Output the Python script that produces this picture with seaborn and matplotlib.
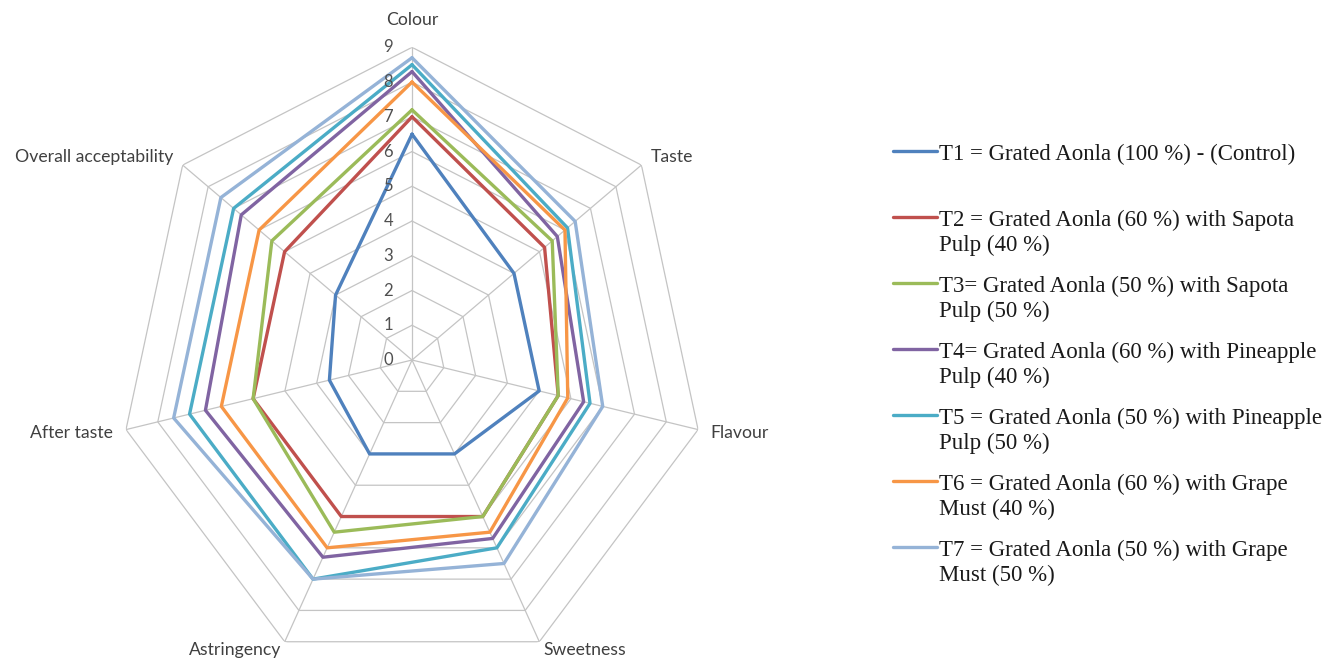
import numpy as np
import pandas as pd
import matplotlib
matplotlib.use("Agg")
import matplotlib.pyplot as plt
import seaborn as sns
from matplotlib.lines import Line2D
from matplotlib.legend_handler import HandlerLine2D

# Sensory scores (9-point hedonic scale) for each treatment
attributes = ["Colour", "Taste", "Flavour", "Sweetness", "Astringency",
              "After taste", "Overall acceptability"]
T1 = [6.5, 4.0, 4.0, 3.0, 3.0, 2.6, 3.0]
T2 = [7.0, 5.2, 4.6, 5.0, 5.0, 5.0, 5.0]
T3 = [7.2, 5.5, 4.6, 5.0, 5.5, 5.0, 5.5]
T4 = [8.3, 5.7, 5.4, 5.7, 6.3, 6.5, 6.7]
T5 = [8.5, 6.1, 5.6, 6.0, 7.0, 7.0, 7.0]
T6 = [8.0, 6.0, 4.9, 5.5, 6.0, 6.0, 6.0]
T7 = [8.7, 6.4, 6.0, 6.5, 7.0, 7.5, 7.5]

treatments = [
    "T1 = Grated Aonla (100 %) - (Control)\n ",
    "T2 = Grated Aonla (60 %) with Sapota\nPulp (40 %)",
    "T3= Grated Aonla (50 %) with Sapota\nPulp (50 %)",
    "T4= Grated Aonla (60 %) with Pineapple\nPulp (40 %)",
    "T5 = Grated Aonla (50 %) with Pineapple\nPulp (50 %)",
    "T6 = Grated Aonla (60 %) with Grape\nMust (40 %)",
    "T7 = Grated Aonla (50 %) with Grape\nMust (50 %)",
]
scores = [T1, T2, T3, T4, T5, T6, T7]
colors = ["#4F81BD", "#C0504D", "#9BBB59", "#8064A2", "#4BACC6", "#F79646", "#95B3D7"]
scale_ticks = list(range(0, 10))

sns.set_theme(style="white")
plt.rcParams["font.family"] = ["Lato", "DejaVu Sans"]

n = len(attributes)
theta = np.linspace(0, 2 * np.pi, n, endpoint=False)
theta_closed = np.append(theta, theta[0])

rows = []
for name, vals in zip(treatments, scores):
    closed = list(vals) + [vals[0]]
    for t, v in zip(theta_closed, closed):
        rows.append({"theta": t, "score": v, "treatment": name})
df = pd.DataFrame(rows)

fig = plt.figure(figsize=(13.3, 6.61), dpi=100)
ax = fig.add_axes([0.0892, -0.0177, 0.4412, 0.9461], projection="polar")
ax.set_theta_offset(np.pi / 2)
ax.set_theta_direction(-1)
ax.set_facecolor("none")

grid_color = "#C4C4C4"
rmax = scale_ticks[-1]
# heptagonal grid rings and spokes
for k in scale_ticks[1:]:
    ax.plot(theta_closed, [k] * (n + 1), color=grid_color, lw=0.9, zorder=1)
for t in theta:
    ax.plot([t, t], [0, rmax], color=grid_color, lw=0.9, zorder=1)

sns.lineplot(data=df, x="theta", y="score", hue="treatment", hue_order=treatments,
             palette=colors, sort=False, estimator=None, linewidth=2.4,
             legend=False, ax=ax, zorder=3)

ax.set_ylim(0, rmax)
ax.set_xticks([])
ax.set_yticks([])
ax.grid(False)
ax.spines["polar"].set_visible(False)
ax.set_xlabel("")
ax.set_ylabel("")
ax.set_aspect("auto")

# scale numbers along the Colour axis
for k in scale_ticks:
    ax.annotate(str(k), xy=(0, k), xytext=(-19, 0), textcoords="offset pixels",
                ha="right", va="center", fontsize=12, color="#505050",
                annotation_clip=False)

# attribute labels round the outside
label_pos = [(9.8, "center"), (9.35, "left"), (9.4, "left"), (9.27, "left"),
             (9.27, "right"), (9.4, "right"), (9.35, "right")]
for t, name, (r, ha) in zip(theta, attributes, label_pos):
    ax.text(t, r, name, ha=ha, va="center", fontsize=12.7, color="#404040",
            clip_on=False)


class FirstLineHandler(HandlerLine2D):
    def create_artists(self, legend, orig_handle, xdescent, ydescent, width,
                       height, fontsize, trans):
        artists = super().create_artists(legend, orig_handle, xdescent, ydescent,
                                         width, height, fontsize, trans)
        shift = 0.69 * fontsize
        for a in artists:
            a.set_ydata(np.asarray(a.get_ydata(), dtype=float) + shift)
        return artists


handles = [Line2D([], [], color=c, lw=2.4) for c in colors]
leg = fig.legend(handles, treatments, loc="upper left",
                 bbox_to_anchor=(0.6714, 0.7825), frameon=False,
                 borderpad=0, borderaxespad=0, handlelength=1.9,
                 handletextpad=0.1, labelspacing=0.87,
                 prop={"family": "Liberation Serif", "size": 16.5},
                 handler_map={Line2D: FirstLineHandler()})
for txt in leg.get_texts():
    txt.set_color("#1a1a1a")
    txt.set_linespacing(1.23)

fig.savefig("out.png", dpi=100, facecolor="white")
